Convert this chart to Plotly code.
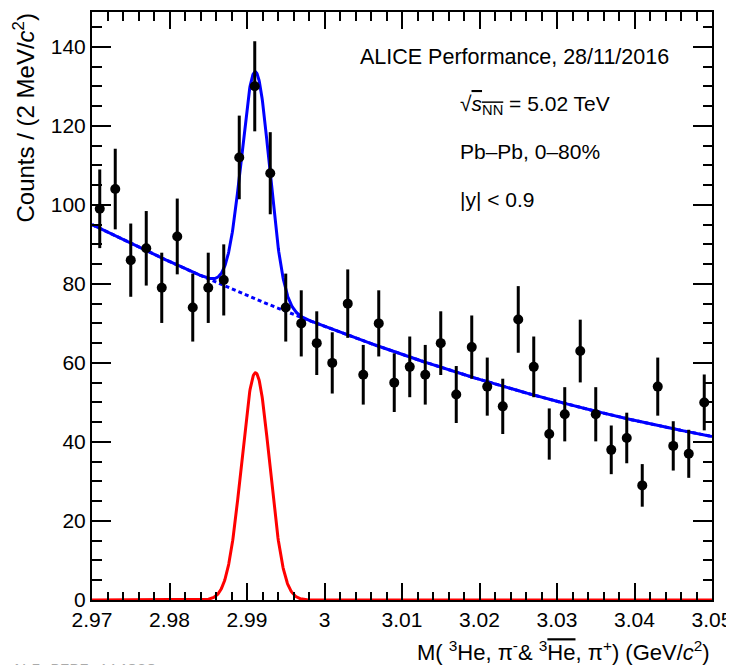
import numpy as np
import plotly.graph_objects as go

# ---- data ----
mass = [2.971, 2.973, 2.975, 2.977, 2.979, 2.981, 2.983, 2.985, 2.987, 2.989,
        2.991, 2.993, 2.995, 2.997, 2.999, 3.001, 3.003, 3.005, 3.007, 3.009,
        3.011, 3.013, 3.015, 3.017, 3.019, 3.021, 3.023, 3.025, 3.027, 3.029,
        3.031, 3.033, 3.035, 3.037, 3.039, 3.041, 3.043, 3.045, 3.047, 3.049]
counts = [99, 104, 86, 89, 79, 92, 74, 79, 81, 112,
          130, 108, 74, 70, 65, 60, 75, 57, 70, 55,
          59, 57, 65, 52, 64, 54, 49, 71, 59, 42,
          47, 63, 47, 38, 41, 29, 54, 39, 37, 50]
errors = [9.95, 10.20, 9.27, 9.43, 8.89, 9.59, 8.60, 8.89, 9.00, 10.58,
          11.40, 10.39, 8.60, 8.37, 8.06, 7.75, 8.66, 7.55, 8.37, 7.42,
          7.68, 7.55, 8.06, 7.21, 8.00, 7.35, 7.00, 8.43, 7.68, 6.48,
          6.86, 7.94, 6.86, 6.16, 6.40, 5.39, 7.35, 6.24, 6.08, 7.07]

# fit parameters
bkg_p0, bkg_p1, bkg_p2 = 95.0, -972.5, 3781.0   # pol2 in (M - 2.97)
gaus_amp, gaus_mean, gaus_sigma = 57.5, 2.9911, 0.0018

x_range = [2.97, 3.05]
y_range = [0, 148.8]
x_ticks = [2.97, 2.98, 2.99, 3.0, 3.01, 3.02, 3.03, 3.04, 3.05]
x_ticklabels = ["2.97", "2.98", "2.99", "3", "3.01", "3.02", "3.03", "3.04", "3.05"]
y_ticks = [0, 20, 40, 60, 80, 100, 120, 140]

# ---- curves ----
xf = np.linspace(x_range[0], x_range[1], 1601)
t = xf - 2.97
bkg = bkg_p0 + bkg_p1 * t + bkg_p2 * t ** 2
sig = gaus_amp * np.exp(-0.5 * ((xf - gaus_mean) / gaus_sigma) ** 2)
tot = bkg + sig

FONT = "Liberation Sans, Arial, Helvetica, sans-serif"
fig = go.Figure()
fig.add_trace(go.Scatter(x=xf, y=sig, mode="lines",
                         line=dict(color="#ff0000", width=3), hoverinfo="skip"))
fig.add_trace(go.Scatter(x=xf, y=bkg, mode="lines",
                         line=dict(color="#0000ff", width=3, dash="4px,3px"), hoverinfo="skip"))
fig.add_trace(go.Scatter(x=xf, y=tot, mode="lines",
                         line=dict(color="#0000ff", width=3), hoverinfo="skip"))
fig.add_trace(go.Scatter(x=mass, y=counts, mode="markers",
                         marker=dict(color="black", size=10, symbol="circle"),
                         error_y=dict(type="data", array=errors, visible=True,
                                      color="black", thickness=3, width=0)))

# page body has an 8px margin; figure sized/margined so the plot area lands at
# screen x 92..712, y 10..600
OFF = 8
W, H = 734 - OFF, 665 - OFF
L, T = 92 - OFF, 10 - OFF
R = W - L - 620
B = H - T - 590

def px(xs):
    return (xs - 92) / 620.0

def py(ys):
    return (600 - ys) / 590.0

axis_common = dict(showline=True, linecolor="black", linewidth=2, mirror="allticks",
                   ticks="inside", tickcolor="black", tickwidth=2,
                   showgrid=False, zeroline=False,
                   tickfont=dict(family=FONT, size=21, color="black"))

fig.update_xaxes(range=x_range, tickvals=x_ticks, ticktext=x_ticklabels, ticklen=17,
                 minor=dict(ticks="inside", dtick=0.002, tick0=2.97, ticklen=8.5,
                            tickwidth=2, tickcolor="black", showgrid=False),
                 **axis_common)
fig.update_yaxes(range=y_range, tickvals=y_ticks, ticklen=19,
                 minor=dict(ticks="inside", dtick=5, tick0=0, ticklen=9.5,
                            tickwidth=2, tickcolor="black", showgrid=False),
                 **axis_common)

ann_font = dict(family=FONT, size=21, color="black")
annotations = [
    dict(text="ALICE Performance, 28/11/2016", x=px(358), y=py(55), xanchor="left", yanchor="middle",
         font=dict(family=FONT, size=21.5, color="black")),
    dict(text="√<span style='text-decoration:overline'><i>s</i><sub>NN</sub></span> = 5.02 TeV",
         x=px(458), y=py(103), xanchor="left", yanchor="middle", font=ann_font),
    dict(text="Pb–Pb, 0–80%", x=px(458), y=py(150), xanchor="left", yanchor="middle", font=ann_font),
    dict(text="|y| &lt; 0.9", x=px(458), y=py(198), xanchor="left", yanchor="middle", font=ann_font),
    dict(text="Counts / (2 MeV/<i>c</i><sup>2</sup>)", x=px(23), y=py(10), textangle=-90,
         xanchor="center", yanchor="top", font=dict(family=FONT, size=24, color="black")),
    dict(text="M( <sup>3</sup>He, π<sup>-</sup>& <sup>3</sup><span style='text-decoration:overline'>He</span>, π<sup>+</sup>) (GeV/<i>c</i><sup>2</sup>)",
         x=1.0, y=py(651), xanchor="right", yanchor="middle", font=dict(family=FONT, size=22, color="black")),
]
for a in annotations:
    a.update(xref="paper", yref="paper", showarrow=False)
annotations.append(dict(text="ALI-PERF-114838", x=px(10), y=py(660), xref="paper", yref="paper",
                        xanchor="left", yanchor="top", showarrow=False,
                        font=dict(family="Liberation Mono, Courier New, monospace", size=16, color="#aaaaaa")))

fig.update_layout(width=W, height=H, margin=dict(l=L, r=R, t=T, b=B),
                  paper_bgcolor="white", plot_bgcolor="white", showlegend=False,
                  annotations=annotations, font=dict(family=FONT, color="black"))

fig.write_html("out.html", config={"displayModeBar": False})
